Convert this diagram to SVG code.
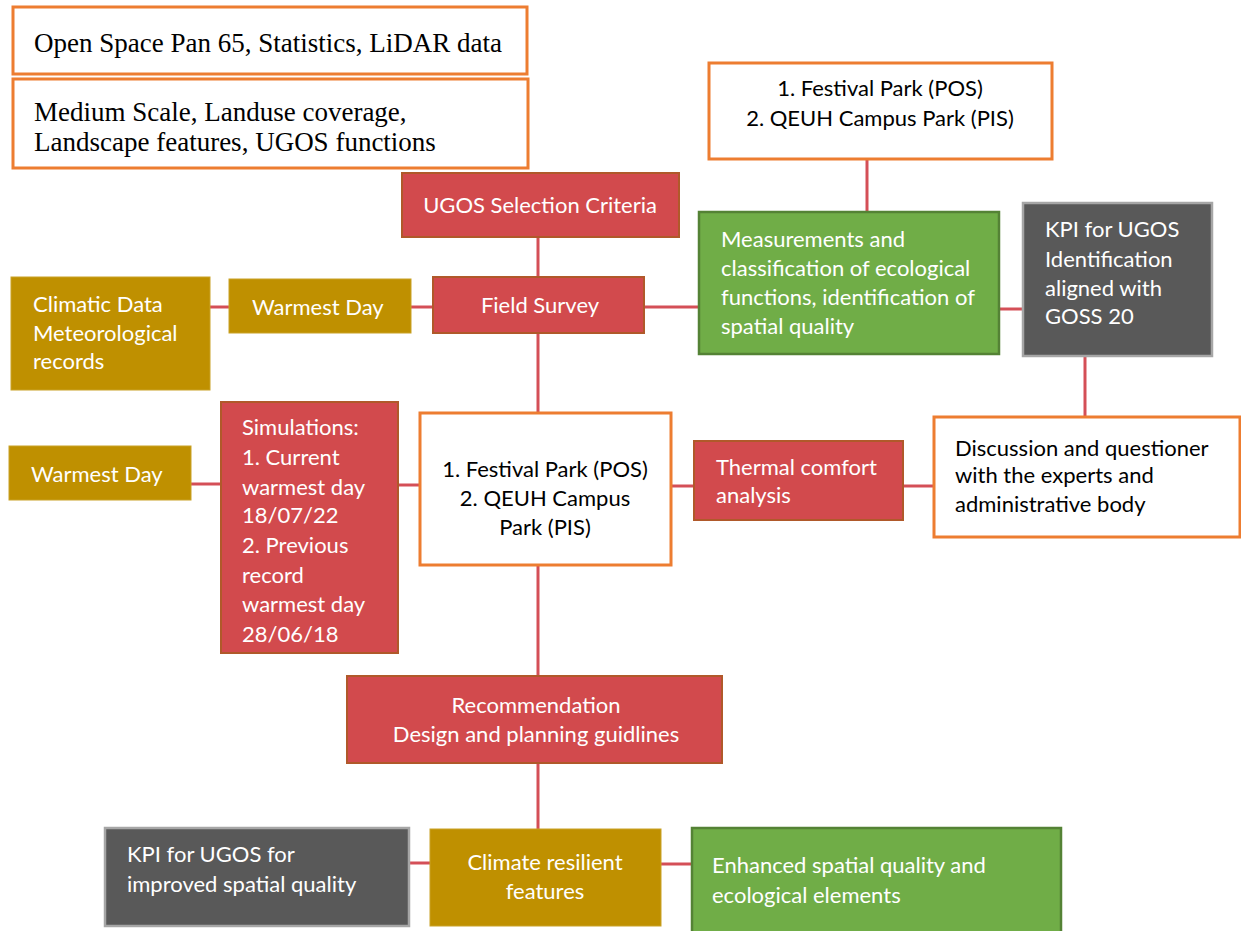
<svg xmlns="http://www.w3.org/2000/svg" width="1241" height="931" viewBox="0 0 1241 931">
<style>
.wb{fill:#fff;stroke:#ED7D31;stroke-width:3}
.rb{fill:#D24A4D;stroke:#B0592A;stroke-width:2}
.gb{fill:#BF9000;stroke:#C9A227;stroke-width:1}
.grb{fill:#70AD47;stroke:#548235;stroke-width:2.5}
.db{fill:#595959;stroke:#A6A6A6;stroke-width:2.5}
.c{stroke:#D44F57;stroke-width:3;fill:none}
.s{font-family:"Liberation Serif","Times New Roman",serif;font-size:27px;fill:#000}
.t{font-family:Lato,Carlito,"Liberation Sans",sans-serif;font-size:22px}
.w{fill:#fff}
.k{fill:#000}
.m{text-anchor:middle}
</style>
<g id="connectors">
<line class="c" x1="538" y1="237" x2="538" y2="277"/>
<line class="c" x1="538" y1="333" x2="538" y2="413"/>
<line class="c" x1="538" y1="565" x2="538" y2="676"/>
<line class="c" x1="538" y1="763" x2="538" y2="829"/>
<line class="c" x1="867" y1="159" x2="867" y2="212"/>
<line class="c" x1="210" y1="307" x2="229" y2="307"/>
<line class="c" x1="411" y1="307" x2="433" y2="307"/>
<line class="c" x1="644" y1="307" x2="699" y2="307"/>
<line class="c" x1="999" y1="309" x2="1023" y2="309"/>
<line class="c" x1="1085" y1="356" x2="1085" y2="417"/>
<line class="c" x1="191" y1="484" x2="221" y2="484"/>
<line class="c" x1="398" y1="485" x2="420" y2="485"/>
<line class="c" x1="671" y1="486" x2="694" y2="486"/>
<line class="c" x1="903" y1="486" x2="934" y2="486"/>
<line class="c" x1="409" y1="863" x2="430" y2="863"/>
<line class="c" x1="661" y1="864" x2="692" y2="864"/>
</g>
<g id="n-openspace">
<rect class="wb" x="13" y="7" width="514" height="67"/>
<text class="s" x="34" y="52">Open Space Pan 65, Statistics, LiDAR data</text>
</g>
<g id="n-medium">
<rect class="wb" x="13" y="79" width="515" height="89"/>
<text class="s" x="34" y="121">Medium Scale, Landuse coverage,</text>
<text class="s" x="34" y="151">Landscape features, UGOS functions</text>
</g>
<g id="n-festival-top">
<rect class="wb" x="709" y="63" width="343" height="96"/>
<text class="t k m" x="880" y="96">1. Festival Park (POS)</text>
<text class="t k m" x="880" y="126">2. QEUH Campus Park (PIS)</text>
</g>
<g id="n-ugos">
<rect class="rb" x="402" y="173" width="277" height="64"/>
<text class="t w m" x="540" y="213">UGOS Selection Criteria</text>
</g>
<g id="n-measure">
<rect class="grb" x="699" y="212" width="300" height="142"/>
<text class="t w" x="721" y="247">Measurements and</text>
<text class="t w" x="721" y="276">classification of ecological</text>
<text class="t w" x="721" y="305">functions, identification of</text>
<text class="t w" x="721" y="334">spatial quality</text>
</g>
<g id="n-kpi-id">
<rect class="db" x="1023" y="203" width="189" height="153"/>
<text class="t w" x="1045" y="237">KPI for UGOS</text>
<text class="t w" x="1045" y="267">Identification</text>
<text class="t w" x="1045" y="296">aligned with</text>
<text class="t w" x="1045" y="324">GOSS 20</text>
</g>
<g id="n-climatic">
<rect class="gb" x="11" y="277" width="199" height="113"/>
<text class="t w" x="33" y="312">Climatic Data</text>
<text class="t w" x="33" y="341">Meteorological</text>
<text class="t w" x="33" y="369">records</text>
</g>
<g id="n-warmest1">
<rect class="gb" x="229" y="279" width="182" height="54"/>
<text class="t w" x="252" y="315">Warmest Day</text>
</g>
<g id="n-field">
<rect class="rb" x="433" y="277" width="211" height="56"/>
<text class="t w m" x="540" y="313">Field Survey</text>
</g>
<g id="n-warmest2">
<rect class="gb" x="9" y="446" width="182" height="54"/>
<text class="t w" x="31" y="482">Warmest Day</text>
</g>
<g id="n-simulations">
<rect class="rb" x="221" y="402" width="177" height="251"/>
<text class="t w" x="242" y="435">Simulations:</text>
<text class="t w" x="242" y="465">1. Current</text>
<text class="t w" x="242" y="495">warmest day</text>
<text class="t w" x="242" y="523">18/07/22</text>
<text class="t w" x="242" y="553">2. Previous</text>
<text class="t w" x="242" y="583">record</text>
<text class="t w" x="242" y="612">warmest day</text>
<text class="t w" x="242" y="642">28/06/18</text>
</g>
<g id="n-festival-mid">
<rect class="wb" x="420" y="413" width="251" height="152"/>
<text class="t k m" x="545" y="477">1. Festival Park (POS)</text>
<text class="t k m" x="545" y="506">2. QEUH Campus</text>
<text class="t k m" x="545" y="535">Park (PIS)</text>
</g>
<g id="n-thermal">
<rect class="rb" x="694" y="441" width="209" height="79"/>
<text class="t w" x="716" y="475">Thermal comfort</text>
<text class="t w" x="716" y="503">analysis</text>
</g>
<g id="n-discussion">
<rect class="wb" x="934" y="417" width="306" height="120"/>
<text class="t k" x="955" y="456">Discussion and questioner</text>
<text class="t k" x="955" y="483">with the experts and</text>
<text class="t k" x="955" y="512">administrative body</text>
</g>
<g id="n-recommendation">
<rect class="rb" x="347" y="676" width="375" height="87"/>
<text class="t w m" x="536" y="713">Recommendation</text>
<text class="t w m" x="536" y="742">Design and planning guidlines</text>
</g>
<g id="n-kpi-improved">
<rect class="db" x="105" y="828" width="304" height="98"/>
<text class="t w" x="127" y="862">KPI for UGOS for</text>
<text class="t w" x="127" y="892">improved spatial quality</text>
</g>
<g id="n-climate">
<rect class="gb" x="430" y="829" width="231" height="97"/>
<text class="t w m" x="545" y="870">Climate resilient</text>
<text class="t w m" x="545" y="899">features</text>
</g>
<g id="n-enhanced">
<rect class="grb" x="692" y="828" width="369" height="106"/>
<text class="t w" x="712" y="873">Enhanced spatial quality and</text>
<text class="t w" x="712" y="903">ecological elements</text>
</g>
</svg>
